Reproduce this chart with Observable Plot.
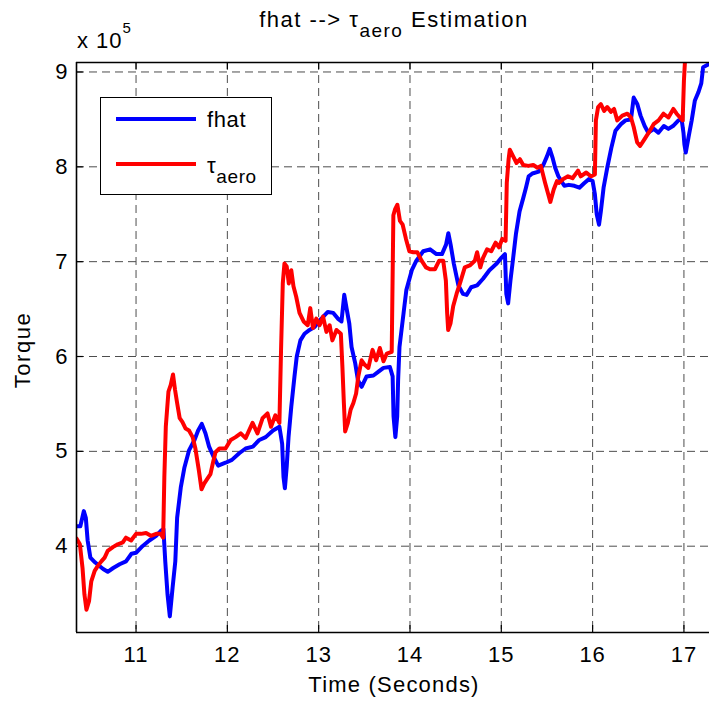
<!DOCTYPE html>
<html><head><meta charset="utf-8">
<script src="https://cdn.jsdelivr.net/npm/d3@7"></script>
<script src="https://cdn.jsdelivr.net/npm/@observablehq/plot@0.6"></script>
<style>
body{margin:0;background:#fff;font-family:"Liberation Sans",Arial,sans-serif;color:#000;}
#wrap{position:relative;width:709px;height:702px;overflow:hidden;}
.abs{position:absolute;white-space:nowrap;font-size:22px;line-height:22px;letter-spacing:1.5px;}
#title{left:394px;top:9px;transform:translateX(-50%);}
#expo{left:77px;top:28px;letter-spacing:1px;}
#ylab{left:23px;top:350px;transform:translate(-50%,-50%) rotate(-90deg);}
#xlab{left:394px;top:674px;transform:translateX(-50%);letter-spacing:1.2px;}
sub{font-size:19px;vertical-align:-10px;line-height:0;}
sup{font-size:15px;vertical-align:15px;line-height:0;}
#legend{position:absolute;left:100px;top:97px;width:172px;height:98px;border:1.5px solid #000;background:#fff;box-sizing:border-box;}
.lg{position:absolute;left:15px;width:80px;height:4px;}
.lt{position:absolute;left:106px;font-size:22px;line-height:22px;letter-spacing:0.6px;}
</style></head><body>
<div id="wrap">
  <div id="chart"></div>
  <div class="abs" id="title">fhat --&gt; τ<sub>aero</sub> Estimation</div>
  <div class="abs" id="expo">x 10<sup>5</sup></div>
  <div class="abs" id="ylab">Torque</div>
  <div class="abs" id="xlab">Time (Seconds)</div>
  <div id="legend">
    <div class="lg" style="top:19px;background:#0000ff"></div>
    <div class="lt" style="top:11px">fhat</div>
    <div class="lg" style="top:64px;background:#ff0000"></div>
    <div class="lt" style="top:57px">τ<sub>aero</sub></div>
  </div>
</div>
<script>
const xTicks = [11, 12, 13, 14, 15, 16, 17];
const yTicks = [4, 5, 6, 7, 8, 9];
const xDomain = [10.348, 17.28];
const yDomain = [3.09, 9.1];

const fhatTime = [10.348,10.39,10.428,10.45,10.47,10.50,10.55,10.64,10.69,10.75,10.82,10.89,10.95,11.0,11.07,11.145,11.22,11.27,11.30,11.32,11.345,11.37,11.40,11.43,11.45,11.49,11.53,11.58,11.64,11.68,11.72,11.76,11.80,11.85,11.90,11.98,12.05,12.13,12.2,12.28,12.35,12.42,12.50,12.57,12.60,12.615,12.63,12.65,12.67,12.70,12.735,12.76,12.80,12.845,12.90,12.955,13.03,13.10,13.16,13.21,13.25,13.28,13.305,13.335,13.36,13.40,13.43,13.47,13.525,13.60,13.655,13.71,13.78,13.81,13.82,13.84,13.86,13.87,13.885,13.93,13.96,14.02,14.07,14.145,14.22,14.29,14.35,14.395,14.42,14.445,14.48,14.53,14.58,14.62,14.67,14.735,14.80,14.87,14.95,15.0,15.04,15.055,15.075,15.10,15.13,15.16,15.2,15.24,15.27,15.30,15.34,15.41,15.46,15.50,15.53,15.56,15.59,15.625,15.69,15.74,15.80,15.855,15.91,15.96,16.0,16.025,16.045,16.07,16.09,16.12,16.16,16.205,16.25,16.31,16.36,16.42,16.45,16.49,16.525,16.57,16.61,16.67,16.72,16.78,16.83,16.88,16.94,16.975,16.995,17.005,17.02,17.05,17.085,17.12,17.16,17.19,17.21,17.25,17.28];
const fhatValue = [4.21,4.21,4.37,4.30,4.06,3.88,3.83,3.76,3.73,3.77,3.81,3.84,3.92,3.93,4.0,4.06,4.11,4.16,4.18,3.84,3.49,3.26,3.56,3.84,4.30,4.62,4.83,5.01,5.12,5.22,5.29,5.19,5.05,4.94,4.85,4.88,4.91,4.98,5.03,5.05,5.12,5.15,5.22,5.26,5.08,4.73,4.61,4.84,5.15,5.47,5.79,6.0,6.17,6.24,6.28,6.31,6.40,6.47,6.46,6.40,6.37,6.65,6.51,6.35,6.10,5.93,5.75,5.68,5.79,5.80,5.84,5.88,5.89,5.79,5.37,5.15,5.37,5.75,6.10,6.46,6.70,6.91,7.01,7.11,7.13,7.08,7.08,7.18,7.30,7.18,6.98,6.75,6.66,6.65,6.73,6.75,6.82,6.91,6.98,7.04,7.08,6.66,6.56,6.80,7.04,7.29,7.53,7.67,7.78,7.90,7.93,7.95,8.02,8.11,8.19,8.10,7.99,7.90,7.80,7.81,7.80,7.78,7.83,7.87,7.85,7.71,7.50,7.39,7.53,7.78,7.99,8.20,8.38,8.45,8.49,8.50,8.73,8.66,8.54,8.43,8.36,8.40,8.36,8.43,8.40,8.43,8.49,8.50,8.36,8.24,8.15,8.31,8.49,8.70,8.79,8.88,9.05,9.07,9.09];

const tauTime = [10.348,10.385,10.414,10.435,10.457,10.485,10.51,10.547,10.58,10.62,10.656,10.69,10.746,10.80,10.855,10.89,10.946,11.0,11.054,11.11,11.163,11.22,11.27,11.297,11.31,11.326,11.355,11.38,11.405,11.427,11.45,11.478,11.507,11.543,11.58,11.62,11.65,11.688,11.717,11.746,11.78,11.815,11.84,11.87,11.913,11.98,12.037,12.09,12.147,12.20,12.276,12.33,12.386,12.44,12.478,12.526,12.57,12.588,12.607,12.625,12.65,12.673,12.70,12.724,12.754,12.79,12.835,12.88,12.908,12.9375,12.974,13.01,13.048,13.085,13.12,13.15,13.195,13.243,13.26,13.276,13.29,13.32,13.35,13.38,13.41,13.434,13.47,13.507,13.544,13.59,13.63,13.67,13.71,13.746,13.80,13.818,13.836,13.862,13.89,13.92,13.956,13.993,14.036,14.08,14.127,14.175,14.218,14.273,14.32,14.364,14.393,14.407,14.418,14.444,14.473,14.51,14.553,14.6,14.655,14.71,14.735,14.77,14.8,14.844,14.89,14.938,14.975,15.01,15.047,15.06,15.08,15.093,15.13,15.167,15.204,15.24,15.296,15.35,15.396,15.433,15.48,15.52,15.537,15.574,15.61,15.63,15.675,15.73,15.78,15.84,15.87,15.93,15.98,16.025,16.036,16.06,16.09,16.126,16.16,16.2,16.235,16.27,16.325,16.38,16.42,16.45,16.487,16.52,16.567,16.614,16.668,16.722,16.776,16.83,16.884,16.92,16.957,16.986,17.0,17.014,17.03];
const tauValue = [4.08,4.02,3.77,3.49,3.33,3.42,3.63,3.74,3.79,3.84,3.88,3.95,3.99,4.02,4.04,4.09,4.06,4.13,4.13,4.14,4.11,4.13,4.13,4.09,4.73,5.26,5.63,5.70,5.81,5.65,5.51,5.35,5.31,5.24,5.22,5.15,5.03,4.80,4.60,4.66,4.71,4.76,4.87,4.99,5.03,5.03,5.12,5.15,5.19,5.14,5.30,5.19,5.35,5.40,5.26,5.38,5.30,6.07,6.77,6.98,6.95,6.77,6.91,6.74,6.63,6.46,6.37,6.33,6.51,6.30,6.40,6.33,6.42,6.26,6.33,6.17,6.28,6.24,5.89,5.51,5.21,5.30,5.44,5.51,5.61,5.79,5.96,5.91,5.88,6.07,5.96,6.09,5.95,6.03,6.05,7.49,7.55,7.60,7.43,7.39,7.24,7.11,7.10,7.10,7.01,6.94,6.92,6.92,7.01,7.01,6.80,6.46,6.28,6.35,6.53,6.66,6.79,6.94,6.96,7.01,7.10,6.94,7.04,7.13,7.11,7.20,7.15,7.24,7.22,7.83,8.08,8.18,8.11,8.04,8.08,8.02,8.01,8.02,7.99,8.01,7.83,7.69,7.63,7.76,7.85,7.83,7.87,7.90,7.88,7.96,7.90,7.94,7.90,7.92,8.49,8.63,8.66,8.59,8.63,8.58,8.61,8.49,8.54,8.56,8.52,8.42,8.26,8.22,8.29,8.36,8.45,8.49,8.56,8.52,8.61,8.56,8.52,8.49,8.91,9.16,9.35];

const fhat = fhatTime.map((t, i) => ({t, v: fhatValue[i]}));
const tau = tauTime.map((t, i) => ({t, v: tauValue[i]}));

const font = '"Liberation Sans", Arial, sans-serif';
const gridStyle = {stroke: "#4d4d4d", strokeWidth: 1, strokeDasharray: "8,5"};
const tickLenX = 0.075;  // inward tick length (y units)
const tickLenY = 0.075;  // inward tick length (x units)
const axisStroke = {stroke: "#000", strokeWidth: 1.2};

const chart = Plot.plot({
  width: 709, height: 702,
  marginLeft: 76, marginRight: 0, marginTop: 62, marginBottom: 70,
  style: {fontFamily: font, fontSize: "22px", letterSpacing: "1px", background: "white", color: "black", overflow: "hidden"},
  x: {domain: xDomain, ticks: xTicks, label: null},
  y: {domain: yDomain, ticks: yTicks, label: null},
  marks: [
    Plot.ruleX(xTicks, gridStyle),
    Plot.ruleY(yTicks, gridStyle),
    Plot.ruleX(xTicks, {x: d => d, y1: yDomain[0], y2: yDomain[0] + tickLenX, ...axisStroke}),
    Plot.ruleX(xTicks, {x: d => d, y1: yDomain[1], y2: yDomain[1] - tickLenX, ...axisStroke}),
    Plot.ruleY(yTicks, {y: d => d, x1: xDomain[0], x2: xDomain[0] + tickLenY, ...axisStroke}),
    Plot.line(fhat, {x: "t", y: "v", stroke: "#0000ff", strokeWidth: 4, clip: true}),
    Plot.line(tau, {x: "t", y: "v", stroke: "#ff0000", strokeWidth: 4, clip: true}),
    Plot.axisX({anchor: "bottom", ticks: xTicks, tickSize: 0, tickPadding: 14, tickFormat: d => String(d), fontSize: 22}),
    Plot.axisY({anchor: "left", ticks: yTicks, tickSize: 0, tickPadding: 8, tickFormat: d => String(d), fontSize: 22}),
    Plot.ruleX([xDomain[0]], {stroke: "#000", strokeWidth: 1.6}),
    Plot.ruleY([yDomain[0]], {stroke: "#000", strokeWidth: 1.6}),
    Plot.ruleY([yDomain[1]], {stroke: "#000", strokeWidth: 1.6})
  ]
});
document.getElementById("chart").appendChild(chart);
</script>
</body></html>
